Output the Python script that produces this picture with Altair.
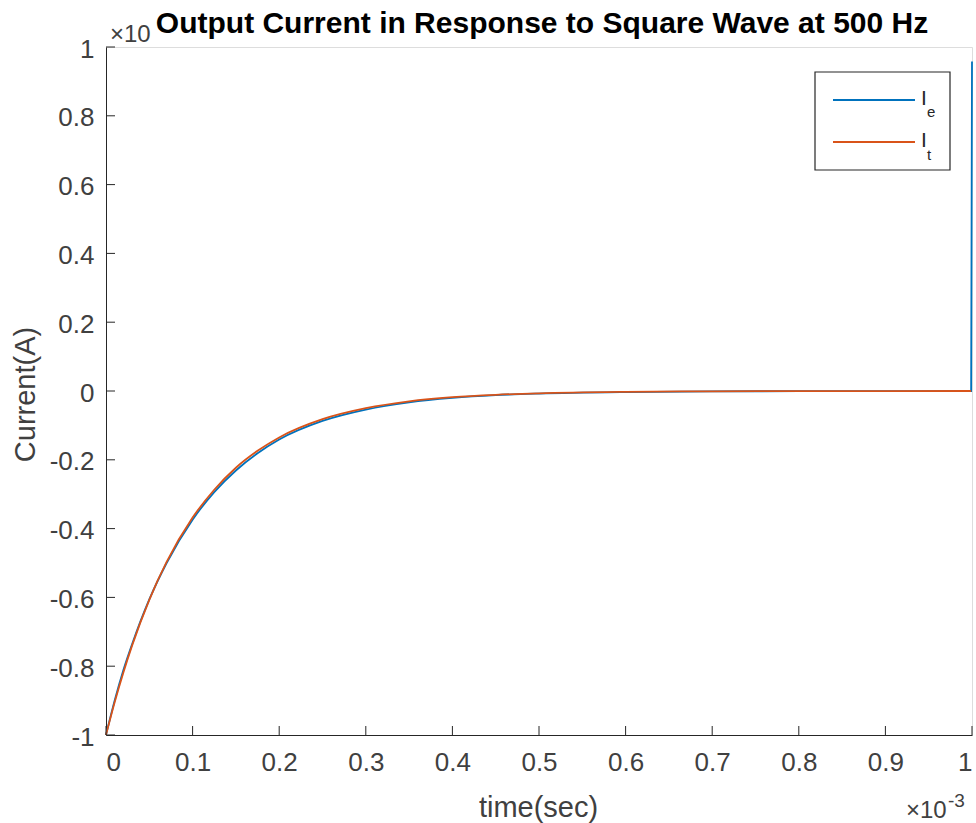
import altair as alt
import pandas as pd

# time axis (x 1e-3 s)
t_vals = [0, 0.01, 0.02, 0.03, 0.05, 0.07, 0.1, 0.125, 0.15, 0.175, 0.2, 0.25,
          0.3, 0.35, 0.4, 0.45, 0.5, 0.6, 0.7, 0.8, 0.9, 0.999]
# theoretical current I_t
it_vals = [-1.0, -0.905, -0.819, -0.741, -0.607, -0.497, -0.368, -0.287, -0.223,
           -0.174, -0.135, -0.082, -0.050, -0.030, -0.018, -0.011, -0.0067,
           -0.0025, -0.0009, -0.0003, -0.0001, 0.0]
# experimental current I_e (spikes at the end)
ie_t = t_vals + [1.0]
ie_vals = [-1.0, -0.90, -0.812, -0.737, -0.606, -0.5, -0.374, -0.294, -0.231,
           -0.181, -0.141, -0.087, -0.054, -0.033, -0.020, -0.012, -0.0075,
           -0.003, -0.0012, -0.0006, -0.0004, -0.0003, 0.958]

x_ticks = [0, 0.1, 0.2, 0.3, 0.4, 0.5, 0.6, 0.7, 0.8, 0.9, 1.0]
y_ticks = [-1, -0.8, -0.6, -0.4, -0.2, 0, 0.2, 0.4, 0.6, 0.8, 1]

series_names = ["Ie", "It"]
series_colors = ["#0072BD", "#D95319"]
title_text = "Output Current in Response to Square Wave at 500 Hz"

FONT = "Liberation Sans"
TXT = "#262626"
LBL = "#404040"
W, H = 866, 688

rows = []
for i, (t, v) in enumerate(zip(ie_t, ie_vals)):
    rows.append({"t": t, "I": v, "series": "Ie", "k": i})
for i, (t, v) in enumerate(zip(t_vals, it_vals)):
    rows.append({"t": t, "I": v, "series": "It", "k": i})
df = pd.DataFrame(rows)

label_expr = "datum.value < 0 ? '-' + format(-datum.value, '~g') : format(datum.value, '~g')"

xs = alt.Scale(domain=[0, 1], nice=False, zero=False)
ys = alt.Scale(domain=[-1, 1], nice=False, zero=False)


def series_line(name, color):
    return alt.Chart(df).transform_filter(alt.datum.series == name).mark_line(
        color=color, strokeWidth=1.8, interpolate="monotone", clip=False
    ).encode(
        x=alt.X("t:Q", scale=xs, title="time(sec)",
                axis=alt.Axis(values=x_ticks, labelExpr=label_expr, ticks=False, tickSize=0,
                              grid=False, domainColor=TXT, domainWidth=1,
                              labelFont=FONT, labelFontSize=26, labelColor=LBL,
                              labelBaseline="alphabetic", labelPadding=35,
                              titleFont=FONT, titleFontSize=29, titleFontWeight="normal",
                              titleColor=LBL, titleX=432, titleY=81,
                              titleBaseline="alphabetic", titleAlign="center")),
        y=alt.Y("I:Q", scale=ys, title="Current(A)",
                axis=alt.Axis(values=y_ticks, labelExpr=label_expr, ticks=False, tickSize=0,
                              grid=False, domainColor=TXT, domainWidth=1,
                              labelFont=FONT, labelFontSize=26, labelColor=LBL,
                              labelPadding=12, labelBaseline="middle", labelOffset=2,
                              titleFont=FONT, titleFontSize=29, titleFontWeight="normal",
                              titleColor=LBL, titleX=-72, titleY=347, titleAngle=-90,
                              titleBaseline="alphabetic", titleAlign="center")),
        order="k:Q",
    )


line_ie = series_line("Ie", series_colors[0])
line_it = series_line("It", series_colors[1])

# inward tick marks
xt = alt.Chart(pd.DataFrame({"v": x_ticks})).mark_rule(color=TXT, strokeWidth=1).encode(
    x=alt.X("v:Q", scale=xs), y=alt.value(H), y2=alt.value(H - 9))
yt = alt.Chart(pd.DataFrame({"v": y_ticks})).mark_rule(color=TXT, strokeWidth=1).encode(
    y=alt.Y("v:Q", scale=ys), x=alt.value(0), x2=alt.value(9))


def txt(s, x, y, size, align="left", weight="normal", color=LBL):
    return alt.Chart(pd.DataFrame({"s": [s]})).mark_text(
        font=FONT, fontSize=size, align=align, baseline="alphabetic",
        fontWeight=weight, color=color
    ).encode(text="s:N", x=alt.value(x), y=alt.value(y))


exp_top = txt("\u00d710", 4, -5, 24)
exp_bot = txt("\u00d710", 800, 771, 24)
exp_bot_sup = txt("-3", 842, 760, 19)
title_mark = txt(title_text, 436, -14, 30, align="center", weight="bold", color="black")

# legend
leg_box = alt.Chart(pd.DataFrame({"a": [0]})).mark_rect(
    fill="white", stroke=TXT, strokeWidth=1.2
).encode(x=alt.value(709), x2=alt.value(844), y=alt.value(25), y2=alt.value(123))
leg_line_e = alt.Chart(pd.DataFrame({"a": [0]})).mark_rule(
    color=series_colors[0], strokeWidth=2).encode(x=alt.value(727), x2=alt.value(809), y=alt.value(53))
leg_line_t = alt.Chart(pd.DataFrame({"a": [0]})).mark_rule(
    color=series_colors[1], strokeWidth=2).encode(x=alt.value(727), x2=alt.value(809), y=alt.value(95))
leg_I1 = txt("I", 815, 58, 21, color=TXT)
leg_e = txt("e", 821, 70, 15, color=TXT)
leg_I2 = txt("I", 815, 100, 21, color=TXT)
leg_t = txt("t", 821, 113, 15, color=TXT)

chart = alt.layer(
    line_ie, line_it, xt, yt, exp_top, exp_bot, exp_bot_sup, title_mark,
    leg_box, leg_line_e, leg_line_t, leg_I1, leg_e, leg_I2, leg_t
).properties(
    width=W, height=H,
    autosize=alt.AutoSizeParams(type="none"),
    padding={"left": 106, "top": 47, "right": 4, "bottom": 88},
).configure_view(stroke=None).configure(background="white")

chart.save("out.html", embed_options={"renderer": "svg", "actions": False})
